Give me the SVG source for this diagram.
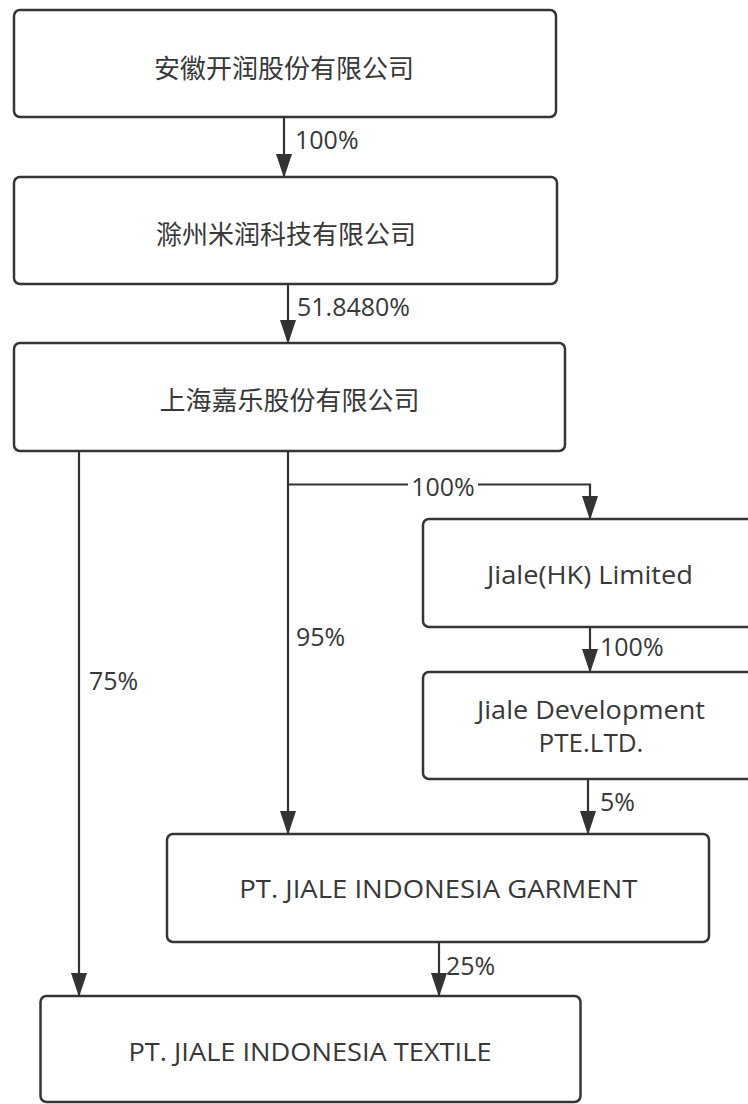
<svg xmlns="http://www.w3.org/2000/svg" width="748" height="1104" viewBox="0 0 748 1104">
<style>
.box{fill:#ffffff;stroke:#353535;stroke-width:2.5}
.t{font-family:"Open Sans","Noto Sans","Liberation Sans",sans-serif;font-size:26px;fill:#383838}
.cn{font-family:"Noto Sans CJK SC","Noto Sans",sans-serif;font-size:26px;fill:#383838}
.lbl{font-family:"Open Sans","Noto Sans","Liberation Sans",sans-serif;font-size:25px;fill:#383838}
.ln{fill:none;stroke:#333333;stroke-width:2.2}
</style>
<defs>
<marker id="arr" viewBox="0 0 24 16" refX="23" refY="8" markerWidth="24" markerHeight="16" markerUnits="userSpaceOnUse" orient="auto">
<path d="M0,0 L24,8 L0,16 z" fill="#333333"/>
</marker>
</defs>
<rect width="748" height="1104" fill="#ffffff"/>

<g id="connectors">
<line class="ln" x1="284" y1="117" x2="284" y2="177" marker-end="url(#arr)"/>
<text class="lbl" x="295" y="149">100%</text>
<line class="ln" x1="288" y1="284" x2="288" y2="343" marker-end="url(#arr)"/>
<text class="lbl" x="297" y="316">51.8480%</text>
<line class="ln" x1="79" y1="451" x2="79" y2="996" marker-end="url(#arr)"/>
<text class="lbl" x="89" y="690">75%</text>
<line class="ln" x1="288" y1="451" x2="288" y2="834" marker-end="url(#arr)"/>
<text class="lbl" x="296" y="646">95%</text>
<path class="ln" d="M288,484.5 H590 V519" marker-end="url(#arr)"/>
<rect x="408" y="472" width="70" height="26" fill="#ffffff"/>
<text class="lbl" x="443" y="496" text-anchor="middle">100%</text>
<line class="ln" x1="590" y1="627" x2="590" y2="672" marker-end="url(#arr)"/>
<text class="lbl" x="600" y="656">100%</text>
<line class="ln" x1="588" y1="779" x2="588" y2="834" marker-end="url(#arr)"/>
<text class="lbl" x="600" y="811">5%</text>
<line class="ln" x1="439" y1="942" x2="439" y2="996" marker-end="url(#arr)"/>
<text class="lbl" x="446" y="975">25%</text>
</g>

<g id="node-kairun">
<rect class="box" x="14" y="10" width="542" height="107" rx="6"/>
<text class="cn" x="284" y="66" text-anchor="middle" dominant-baseline="central">安徽开润股份有限公司</text>
</g>
<g id="node-mirun">
<rect class="box" x="14" y="177" width="543" height="107" rx="6"/>
<text class="cn" x="286" y="232" text-anchor="middle" dominant-baseline="central">滁州米润科技有限公司</text>
</g>
<g id="node-jiale">
<rect class="box" x="14" y="343" width="551" height="108" rx="6"/>
<text class="cn" x="289.5" y="398" text-anchor="middle" dominant-baseline="central">上海嘉乐股份有限公司</text>
</g>
<g id="node-hk">
<rect class="box" x="423" y="519" width="334" height="108" rx="6"/>
<text class="t" x="590" y="584" text-anchor="middle" textLength="206" lengthAdjust="spacingAndGlyphs">Jiale(HK) Limited</text>
</g>
<g id="node-dev">
<rect class="box" x="423" y="672" width="334" height="107" rx="6"/>
<text class="t" x="591" y="719" text-anchor="middle" textLength="228" lengthAdjust="spacingAndGlyphs">Jiale Development</text>
<text class="t" x="591" y="752" text-anchor="middle">PTE.LTD.</text>
</g>
<g id="node-garment">
<rect class="box" x="167" y="834" width="542" height="108" rx="6"/>
<text class="t" x="438.3" y="898" text-anchor="middle" textLength="398" lengthAdjust="spacingAndGlyphs">PT. JIALE INDONESIA GARMENT</text>
</g>
<g id="node-textile">
<rect class="box" x="40.5" y="996" width="540" height="106" rx="6"/>
<text class="t" x="310" y="1060.5" text-anchor="middle" textLength="363" lengthAdjust="spacingAndGlyphs">PT. JIALE INDONESIA TEXTILE</text>
</g>
</svg>
